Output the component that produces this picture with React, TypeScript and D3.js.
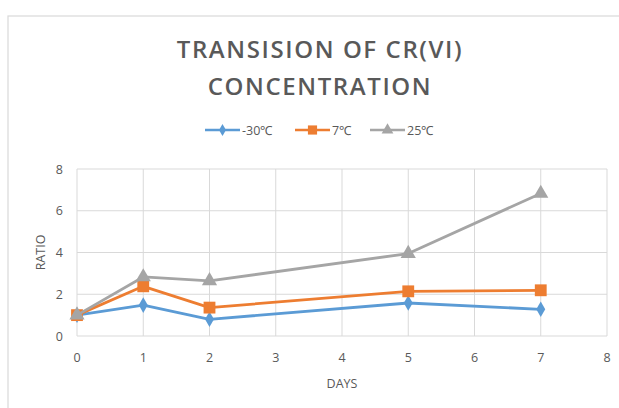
import React from 'react';
import * as d3 from 'd3';

const days = [0, 1, 2, 5, 7];
const minus30 = [1.0, 1.48, 0.8, 1.58, 1.28];
const plus7 = [1.0, 2.38, 1.36, 2.14, 2.19];
const plus25 = [1.0, 2.83, 2.64, 3.95, 6.83];
const seriesNames = ['-30℃', '7℃', '25℃'];
const xTicks = [0, 1, 2, 3, 4, 5, 6, 7, 8];
const yTicks = [0, 2, 4, 6, 8];

const W = 619;
const H = 408;
const left = 77;
const right = 607;
const top = 169;
const bottom = 336;

const colors = ['#5B9BD5', '#ED7D31', '#A5A5A5'];
const shapes = [d3.symbolDiamond, d3.symbolSquare, d3.symbolTriangle];
const sizes = [70, 140, 100];

const App = () => {
  const x = d3.scaleLinear().domain([0, 8]).range([left, right]);
  const y = d3.scaleLinear().domain([0, 8]).range([bottom, top]);
  const line = d3.line<[number, number]>()
    .x(d => x(d[0]))
    .y(d => y(d[1]));

  const all = [minus30, plus7, plus25];
  const legendX = [205, 295, 370];

  return (
    <svg width={W} height={H} style={{ position: 'absolute', left: 0, top: 0, background: '#fff' }}
      fontFamily="'Open Sans', sans-serif">
      <rect x={8} y={16} width={640} height={420} fill="#fff" stroke="#d9d9d9" strokeWidth={1.2} />

      <g fill="#595959" fontWeight={600} fontSize={24} textAnchor="middle" letterSpacing={1.6}>
        <text x={320} y={58}>TRANSISION OF CR(VI)</text>
        <text x={320} y={95}>CONCENTRATION</text>
      </g>

      {/* legend */}
      {seriesNames.map((name, i) => (
        <g key={name}>
          <line x1={legendX[i]} x2={legendX[i] + 35} y1={130} y2={130} stroke={colors[i]} strokeWidth={2.5} />
          <path d={d3.symbol(shapes[i], sizes[i] * 0.6)() as string}
            transform={`translate(${legendX[i] + 17.5},130)`} fill={colors[i]} />
          <text x={legendX[i] + 37} y={134.5} fontSize={12.5} fill="#595959">{name}</text>
        </g>
      ))}

      {/* grid */}
      {yTicks.map(t => (
        <line key={'gy' + t} x1={left} x2={right} y1={y(t)} y2={y(t)} stroke="#d9d9d9" strokeWidth={1} />
      ))}
      {xTicks.map(t => (
        <line key={'gx' + t} x1={x(t)} x2={x(t)} y1={top} y2={bottom} stroke="#d9d9d9" strokeWidth={1} />
      ))}

      {/* tick labels */}
      {yTicks.map(t => (
        <text key={'ty' + t} x={63} y={y(t) + 4.5} fontSize={12.5} fill="#595959" textAnchor="end">{t}</text>
      ))}
      {xTicks.map(t => (
        <text key={'tx' + t} x={x(t)} y={362} fontSize={12.5} fill="#595959" textAnchor="middle">{t}</text>
      ))}

      <text x={342} y={388} fontSize={12.5} fill="#595959" textAnchor="middle">DAYS</text>
      <text transform={`translate(45,${(top + bottom) / 2}) rotate(-90)`} fontSize={12.5} fill="#595959"
        textAnchor="middle">RATIO</text>

      {/* series */}
      {all.map((vals, i) => {
        const pts = days.map((d, j) => [d, vals[j]] as [number, number]);
        return (
          <g key={'s' + i}>
            <path d={line(pts) as string} fill="none" stroke={colors[i]} strokeWidth={2.8} strokeLinejoin="round" />
            {pts.map((p, j) => (
              <path key={j} d={d3.symbol(shapes[i], sizes[i])() as string}
                transform={`translate(${x(p[0])},${y(p[1])})`} fill={colors[i]} />
            ))}
          </g>
        );
      })}
    </svg>
  );
};

export default App;
